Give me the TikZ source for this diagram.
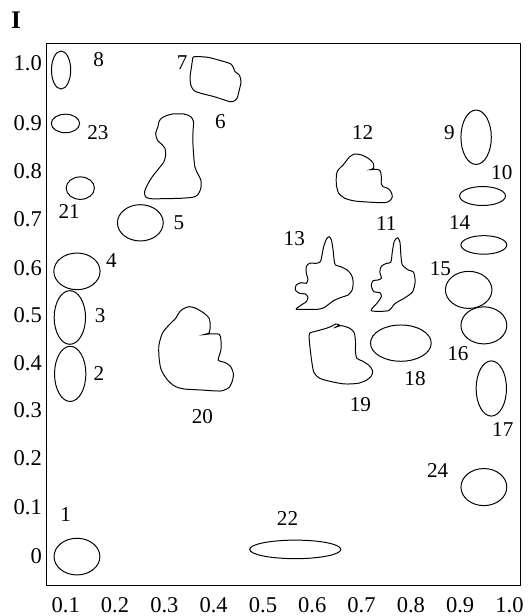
\documentclass[tikz,border=0pt]{standalone}
\usepackage{fontspec}
\setmainfont{Liberation Serif}

\begin{document}
\begin{tikzpicture}[
    x=12.3cm, y=12.3cm,
    outline/.style={line width=0.7pt},
    blob/.style={line width=0.7pt, smooth cycle, tension=0.45},
    spot/.style={font=\fontsize{15}{18}\selectfont, inner sep=0pt},
    ticklabel/.style={font=\fontsize{16}{19}\selectfont, inner sep=0pt},
    trace/.style={shift={(-0.0334,1.1278)}, x=0.02505cm, y=-0.02495cm}
  ]
  \useasboundingbox (-0.0334,-0.1217) rectangle (1.0359,1.1278);

  % Panel title and frame
  \node[font=\fontsize{18}{20}\selectfont\bfseries, inner sep=0pt] (title) at (-0.0008,1.0862) {I};
  \draw[line width=0.8pt] (0.0616,-0.0590) rectangle (1.0222,1.0398);

  % Axis labels
  \foreach \v in {0.1,0.2,0.3,0.4,0.5,0.6,0.7,0.8,0.9,1.0}
    \node[ticklabel] (x-\v) at (\v,-0.1004) {\v};
  \foreach \v/\y in {1.0/1.0, 0.9/0.8782, 0.8/0.7798, 0.7/0.6838, 0.6/0.5838,
                     0.5/0.4878, 0.4/0.3902, 0.3/0.2958, 0.2/0.1982, 0.1/0.1, 0/0.0}
    \node[ticklabel, anchor=east] (y-\v) at (0.0520,\y) {\v};

  % Elliptic spots
  \foreach \cx/\cy/\rx/\ry in {
      0.1227/-0.0012/0.0465/0.0372,  % 1
      0.1090/0.3694/0.0318/0.0560,   % 2
      0.1083/0.4838/0.0318/0.0544,   % 3
      0.1227/0.5774/0.0469/0.0372,   % 4
      0.2513/0.6758/0.0465/0.0368,   % 5
      0.0905/0.9858/0.0195/0.0385,   % 8
      0.9324/0.8494/0.0308/0.0552,   % 9
      0.9454/0.7302/0.0465/0.0192,   % 10
      0.9481/0.6310/0.0465/0.0188,   % 14
      0.9173/0.5398/0.0472/0.0376,   % 15
      0.9481/0.4678/0.0465/0.0376,   % 16
      0.9632/0.3398/0.0308/0.0560,   % 17
      0.7797/0.4318/0.0616/0.0368,   % 18
      0.1295/0.7462/0.0287/0.0228,   % 21
      0.5655/0.0134/0.0924/0.0188,   % 22
      0.0994/0.8774/0.0287/0.0188,   % 23
      0.9481/0.1398/0.0465/0.0376}   % 24
    \draw[outline] (\cx,\cy) ellipse [x radius=\rx, y radius=\ry];

  % Irregular spots (traced outlines)
  \begin{scope}[trace]
    % 7
    \draw[blob] plot coordinates {(193.3,56.7) (206.7,57.3) (220,60.7) (230,64) (232.7,68.3)
      (234,71.7) (238.3,75) (240,81.7) (238.3,90) (236,98.3) (231.7,101.7) (226.7,101)
      (213.3,96.7) (200,93.3) (193.3,90.7) (190,85) (189.3,76.7) (190.7,66.7) (191.7,60)};
    % 6
    \draw[blob] plot coordinates {(165,116) (171.7,114) (183.3,114) (190,116.7) (192.7,121.7)
      (192.3,130) (192,140) (192.7,153.3) (194,166.7) (196.7,173.3) (200,180) (200,188.3)
      (196.7,195) (191.7,197.3) (180,198.3) (163.3,198.7) (150,198.7) (145,196.7)
      (144,191.7) (146.7,185) (151.7,176.7) (158.3,168.3) (163.3,161.7) (165,155)
      (164.3,148.3) (161.7,145) (156.7,140) (155,133.3) (157.3,126.7) (158.3,121.7)
      (160.7,118.3)};
    % 20
    \draw[blob] plot coordinates {(181.7,309.3) (188.3,306.7) (195,308.3) (203.3,313.3)
      (208.3,318.3) (209.3,325) (208.3,332.7) (202.7,334.7) (208.3,334) (218.3,334.3)
      (220,340) (220,350) (217.3,360) (223.3,362.3) (229.3,366) (232.3,373.3) (231.7,380)
      (228.3,387.3) (221.7,390.7) (215,391) (200,390) (183.3,389) (175,386.7) (168.3,381.7)
      (163.3,375) (160,368.3) (158.3,356.7) (158.3,345) (161.7,333.3) (168.3,325)
      (175,318.3) (178.3,312.7)};
    % 12
    \draw[blob] plot coordinates {(348.3,156.7) (353.3,154) (360,155) (366.7,158.3)
      (371.7,163.3) (372,168.3) (368.7,169.7) (375,169.3) (378.7,171) (379.7,176.7)
      (379.7,184) (381.3,186.7) (386,188.3) (389.3,191.7) (390.7,196.7) (388.3,200.7)
      (383.3,202.7) (370,202.3) (353.3,201) (343.3,198.3) (337.3,193.3) (335,185)
      (335,175) (336.7,170) (341.7,165) (345,160.7)};
    % 13
    \draw[blob] plot coordinates {(327.7,236.7) (330,240) (331.7,250) (332.7,260) (334,265)
      (339.3,266.7) (345.7,270) (350,275) (351.7,281.7) (350.7,290) (346.7,295) (340,297.3)
      (331.7,301) (323.3,307.3) (316.7,309.3) (306.7,309.3) (295,309.3) (300,305)
      (305,301.7) (306.7,297.3) (304,294) (298.3,293.3) (294,290) (295,285) (300,282.7)
      (305,283.3) (306.7,279.3) (305,273.3) (305,266.7) (308.3,263.3) (315,263.3)
      (319,261.7) (320.7,255) (322.3,246.7) (325,239.3)};
    % 11
    \draw[blob] plot coordinates {(396,237.8) (392.6,241.3) (390.6,252.4) (389.2,262.2)
      (384.9,263.4) (379.8,266.2) (378.2,272.1) (379.8,278) (376.5,280) (371.4,280.8)
      (369.7,285.9) (372.4,291.8) (378.2,292.6) (379.8,296.5) (375.8,302.8) (369.7,310.7)
      (386.6,310.7) (393.3,303.6) (403.4,297.7) (410.8,291.8) (413.4,281.9) (411.8,272.1)
      (406.7,270.1) (400.7,265) (399.3,256.3) (398.3,242.5)};
    % 19
    \draw[blob] plot coordinates {(308.3,333.3) (316.7,330.7) (325,328.3) (330.7,326)
      (334.3,324) (337.7,325) (334,327.3) (340,325.7) (348.3,328.3) (352.7,332.7)
      (354,341.7) (354,351.7) (355.3,358.3) (360.7,361) (367.3,365.3) (371,370.7)
      (370,375.7) (365.3,380) (356.7,383.3) (343.3,384) (330,381.7) (318.3,378.3)
      (312.7,372.7) (310.7,363.3) (309,350) (308,340)};
  \end{scope}

  % Spot numbers
  \foreach \n/\lx/\ly in {1/0.0999/0.0838, 2/0.1671/0.3694, 3/0.1699/0.4878,
      4/0.1925/0.5998, 5/0.3294/0.6758, 6/0.4136/0.8814, 7/0.3362/1.0014,
      8/0.1665/1.0062, 9/0.8783/0.8598, 10/0.9844/0.7782, 11/0.7503/0.6734,
      12/0.7024/0.8598, 13/0.5635/0.6438, 14/0.8988/0.6758, 15/0.8598/0.5838,
      16/0.8954/0.4102, 17/0.9864/0.2574, 18/0.8085/0.3598, 19/0.6976/0.3078,
      20/0.3773/0.2838, 21/0.1069/0.6982, 22/0.5498/0.0758, 23/0.1651/0.8598,
      24/0.8543/0.1742}
    \node[spot] (n\n) at (\lx,\ly) {\n};
\end{tikzpicture}
\end{document}
